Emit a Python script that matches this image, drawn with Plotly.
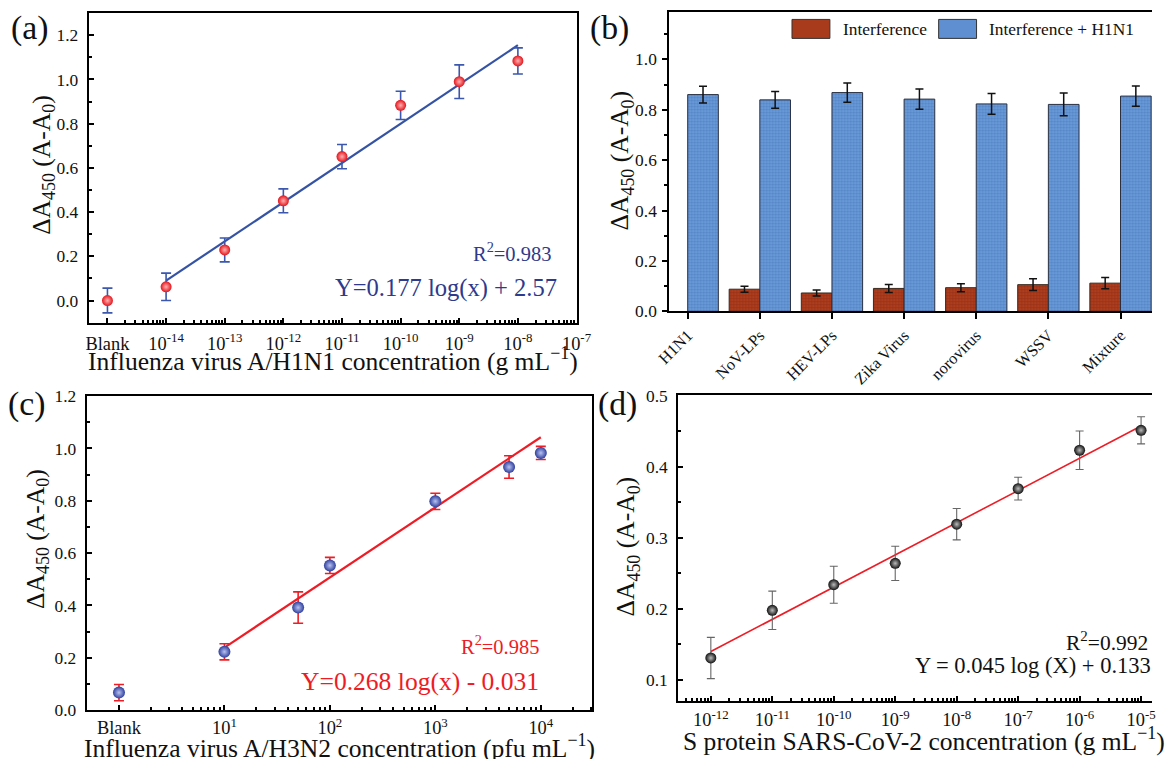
import numpy as np
import plotly.graph_objects as go

W, H = 1167, 759
FONT = "Liberation Serif"
# the photographed page comes out slightly shrunk about its centre; positions below are
# given in target-picture pixels and mapped back to page pixels
S = 0.9775
CX, CY = W / 2, H / 2

# ---------------- data ----------------
# (a) H1N1
a_x = [1e-15, 1e-14, 1e-13, 1e-12, 1e-11, 1e-10, 1e-9, 1e-8]   # first = Blank
a_y = [0.000, 0.062, 0.229, 0.451, 0.651, 0.883, 0.990, 1.084]
a_err = [0.056, 0.062, 0.054, 0.054, 0.055, 0.064, 0.076, 0.059]
a_fit_x = [1e-14, 1e-8]
a_fit_y = [0.090, 1.155]
a_ticks = [1e-15, 1e-14, 1e-13, 1e-12, 1e-11, 1e-10, 1e-9, 1e-8, 1e-7]
a_ticktext = ["Blank", "10<sup>-14</sup>", "10<sup>-13</sup>", "10<sup>-12</sup>", "10<sup>-11</sup>",
              "10<sup>-10</sup>", "10<sup>-9</sup>", "10<sup>-8</sup>", "10<sup>-7</sup>"]

# (b) selectivity
b_cats = ["H1N1", "NoV-LPs", "HEV-LPs", "Zika Virus", "norovirus", "WSSV", "Mixture"]
b_interf = [None, 0.088, 0.073, 0.091, 0.094, 0.106, 0.112]
b_interf_err = [None, 0.012, 0.012, 0.016, 0.016, 0.023, 0.022]
b_h1n1 = [0.860, 0.839, 0.868, 0.842, 0.823, 0.821, 0.854]
b_h1n1_err = [0.033, 0.033, 0.038, 0.040, 0.041, 0.045, 0.040]

# (c) H3N2
c_x = [1, 10, 50, 100, 1000, 5000, 10000]   # first = Blank
c_y = [0.067, 0.223, 0.392, 0.553, 0.798, 0.929, 0.983]
c_err = [0.031, 0.031, 0.060, 0.031, 0.031, 0.043, 0.025]
c_fit_x = [10, 10000]
c_fit_y = [0.239, 1.043]
c_ticks = [1, 10, 100, 1000, 10000]
c_ticktext = ["Blank", "10<sup>1</sup>", "10<sup>2</sup>", "10<sup>3</sup>", "10<sup>4</sup>"]

# (d) S protein SARS-CoV-2
d_x = [1e-12, 1e-11, 1e-10, 1e-9, 1e-8, 1e-7, 1e-6, 1e-5]
d_y = [0.131, 0.198, 0.234, 0.264, 0.319, 0.369, 0.423, 0.451]
d_err = [0.029, 0.027, 0.026, 0.024, 0.022, 0.016, 0.027, 0.019]
d_fit_x = [1e-12, 1e-5]
d_fit_y = [0.140, 0.457]
d_ticks = [1e-12, 1e-11, 1e-10, 1e-9, 1e-8, 1e-7, 1e-6, 1e-5]
d_ticktext = ["10<sup>-12</sup>", "10<sup>-11</sup>", "10<sup>-10</sup>", "10<sup>-9</sup>",
              "10<sup>-8</sup>", "10<sup>-7</sup>", "10<sup>-6</sup>", "10<sup>-5</sup>"]

# --------------- helpers ---------------
def wx(r):
    return CX + (r - CX) / S

def wy(r):
    return CY + (r - CY) / S

def px(r, clamp=True):
    v = wx(r) / W
    return min(1.0, max(0.0, v)) if clamp else v

def py(r, clamp=True):
    v = 1 - wy(r) / H
    return min(1.0, max(0.0, v)) if clamp else v

def F(size):
    return size / S

def minor_log(d0, d1):
    return [k * 10.0 ** d for d in range(d0, d1) for k in range(2, 10)]

YT = "ΔA<sub>450</sub> (A-A<sub>0</sub>)"
R_EDGE = CX + (W - CX) * S   # target x of the page's right edge

fig = go.Figure()

# ---- (a)
fig.add_trace(go.Scatter(x=a_fit_x, y=a_fit_y, mode="lines", line=dict(color="#3553A4", width=2.2),
                         xaxis="x", yaxis="y", showlegend=False))
fig.add_trace(go.Scatter(x=a_x, y=a_y, mode="markers",
                         error_y=dict(type="data", array=a_err, color="#3B57AE", thickness=1.6, width=5),
                         marker=dict(size=11, color="#E3141B", line=dict(width=0),
                                     gradient=dict(type="radial", color="#FFB0B0")),
                         xaxis="x", yaxis="y", showlegend=False))

# ---- (b)
fig.add_trace(go.Bar(x=b_cats, y=b_interf, name="Interference",
                     error_y=dict(type="data", array=b_interf_err, color="#111", thickness=1.5, width=4),
                     marker=dict(color="#B4401E", line=dict(color="#3a2a20", width=1),
                                 pattern=dict(shape=".", fgcolor="#7A2410", size=3, solidity=0.5,
                                              fillmode="overlay")),
                     xaxis="x2", yaxis="y2", showlegend=False))
fig.add_trace(go.Bar(x=b_cats, y=b_h1n1, name="Interference + H1N1",
                     error_y=dict(type="data", array=b_h1n1_err, color="#111", thickness=1.5, width=4),
                     marker=dict(color="#6E9FDD", line=dict(color="#2a3040", width=1),
                                 pattern=dict(shape=".", fgcolor="#3D69AE", size=3, solidity=0.5,
                                              fillmode="overlay")),
                     xaxis="x2", yaxis="y2", showlegend=False))

# ---- (c)
fig.add_trace(go.Scatter(x=c_fit_x, y=c_fit_y, mode="lines", line=dict(color="#EE1C25", width=2.2),
                         xaxis="x3", yaxis="y3", showlegend=False))
fig.add_trace(go.Scatter(x=c_x, y=c_y, mode="markers",
                         error_y=dict(type="data", array=c_err, color="#EE1C25", thickness=1.6, width=5),
                         marker=dict(size=12, color="#2E3F9E", line=dict(width=0),
                                     gradient=dict(type="radial", color="#B8C2F0")),
                         xaxis="x3", yaxis="y3", showlegend=False))

# ---- (d)
fig.add_trace(go.Scatter(x=d_fit_x, y=d_fit_y, mode="lines", line=dict(color="#EE1C25", width=1.6),
                         xaxis="x4", yaxis="y4", showlegend=False))
fig.add_trace(go.Scatter(x=d_x, y=d_y, mode="markers",
                         error_y=dict(type="data", array=d_err, color="#666", thickness=1.1, width=4),
                         marker=dict(size=11, color="#111111", line=dict(width=0),
                                     gradient=dict(type="radial", color="#BBBBBB")),
                         xaxis="x4", yaxis="y4", showlegend=False))


def ax(**kw):
    base = dict(showline=True, linecolor="black", linewidth=2, showgrid=False, zeroline=False,
                tickfont=dict(family=FONT, size=F(17), color="#111"), tickcolor="black", tickwidth=1.5)
    base.update(kw)
    return base

XTF = dict(family=FONT, size=F(18), color="#111")
# category scale of (b): H1N1 at 689.8 px, 72.1 px per category
b_right = (R_EDGE - 689.8) / 72.1
# log scale of (d): 1e-12 at 711 px, 61.7 px per decade
d_right = -12 + (R_EDGE - 711) / 61.7

fig.update_layout(
    width=W, height=H, margin=dict(l=0, r=0, t=0, b=0),
    paper_bgcolor="white", plot_bgcolor="white",
    font=dict(family=FONT, color="#111"),
    barmode="group", bargap=0.15, bargroupgap=0,
    xaxis=ax(type="log", domain=[px(88), px(577)], range=[-15.32, -7.0],
             tickvals=a_ticks, ticktext=a_ticktext, ticks="inside", ticklen=5, mirror=True,
             ticklabelstandoff=3, tickfont=XTF,
             minor=dict(tickvals=minor_log(-15, -7), ticks="inside", ticklen=3, tickcolor="black"),
             anchor="y"),
    yaxis=ax(domain=[py(323), py(12.7)], range=[-0.1, 1.3], tickvals=[0, 0.2, 0.4, 0.6, 0.8, 1.0, 1.2],
             tickformat=".1f", ticks="inside", ticklen=5, mirror=True, ticklabelstandoff=5,
             minor=dict(dtick=0.1, tick0=0, ticks="inside", ticklen=3, tickcolor="black"),
             anchor="x"),
    xaxis2=ax(type="category", domain=[px(670), 1.0], range=[-0.255, b_right],
              ticks="outside", ticklen=6, tickangle=-45, mirror=True, anchor="y2",
              tickfont=dict(family=FONT, size=F(16), color="#111")),
    yaxis2=ax(domain=[py(311.7), py(11.7)], range=[0, 1.187], tickvals=[0, 0.2, 0.4, 0.6, 0.8, 1.0],
              tickformat=".1f", ticks="outside", ticklen=5, mirror=False, ticklabelstandoff=2,
              minor=dict(dtick=0.1, tick0=0, ticks="outside", ticklen=3, tickcolor="black"),
              anchor="x2"),
    xaxis3=ax(type="log", domain=[px(86), px(593)], range=[-0.306, 4.49],
              tickvals=c_ticks, ticktext=c_ticktext, ticks="inside", ticklen=5, mirror=True,
              ticklabelstandoff=0, tickfont=XTF,
              minor=dict(tickvals=minor_log(0, 5)[:-4], ticks="inside", ticklen=3, tickcolor="black"),
              anchor="y3"),
    yaxis3=ax(domain=[py(711.5), py(396.7)], range=[0, 1.2], tickvals=[0, 0.2, 0.4, 0.6, 0.8, 1.0, 1.2],
              tickformat=".1f", ticks="inside", ticklen=5, mirror=True, ticklabelstandoff=5,
              minor=dict(dtick=0.1, tick0=0, ticks="inside", ticklen=3, tickcolor="black"),
              anchor="x3"),
    xaxis4=ax(type="log", domain=[px(679), 1.0], range=[-12.53, d_right],
              tickvals=d_ticks, ticktext=d_ticktext, ticks="inside", ticklen=5, mirror=True,
              ticklabelstandoff=1, tickfont=XTF,
              minor=dict(tickvals=minor_log(-13, -4), ticks="inside", ticklen=3, tickcolor="black"),
              anchor="y4"),
    yaxis4=ax(domain=[py(702.7), py(396)], range=[0.07, 0.5], tickvals=[0.1, 0.2, 0.3, 0.4, 0.5],
              tickformat=".1f", ticks="inside", ticklen=5, mirror=False, ticklabelstandoff=5,
              minor=dict(dtick=0.05, tick0=0, ticks="inside", ticklen=3, tickcolor="black"),
              anchor="x4"),
)

ann = []

def add_text(x, y, text, size, color="#111", xanchor="center", yanchor="middle", angle=0):
    ann.append(dict(x=px(x, False), y=py(y, False), xref="paper", yref="paper", text=text,
                    showarrow=False, xanchor=xanchor, yanchor=yanchor, textangle=angle,
                    font=dict(family=FONT, size=F(size), color=color)))

# panel labels
add_text(29, 28, "(a)", 33)
add_text(610, 28, "(b)", 33)
add_text(26, 405, "(c)", 33)
add_text(618, 405, "(d)", 33)

# y titles
add_text(42, 165, YT, 25, angle=-90)
add_text(622, 160, YT, 25, angle=-90)
add_text(36, 540, YT, 25, angle=-90)
add_text(628, 547, YT, 25, angle=-90)

# x titles
add_text(333, 360, "Influenza virus A/H1N1 concentration (g mL<sup>−1</sup>)", 25)
add_text(81, 748, "Influenza virus A/H3N2 concentration (pfu mL<sup>−1</sup>)", 25, xanchor="left")
add_text(682, 741, "S protein SARS-CoV-2 concentration (g mL<sup>−1</sup>)", 25, xanchor="left")

# fit texts
NAVY = "#2E3A8C"
add_text(553, 252, "R<sup>2</sup>=0.983", 20, NAVY, xanchor="right")
add_text(559, 288, "Y=0.177 log(x) + 2.57", 24, NAVY, xanchor="right")
RED = "#EE1C25"
add_text(541, 646, "R<sup>2</sup>=0.985", 20, RED, xanchor="right")
add_text(541, 683, "Y=0.268 log(x) - 0.031", 25, RED, xanchor="right")
add_text(1152, 643, "R<sup>2</sup>=0.992", 21, "#111", xanchor="right")
add_text(1155, 667, "Y = 0.045 log (X) + 0.133", 22, "#111", xanchor="right")

# legend of (b)
add_text(842, 29, "Interference", 17, xanchor="left")
add_text(988, 29, "Interference + H1N1", 17, xanchor="left")

fig.update_layout(annotations=ann)

shapes = [
    dict(type="rect", xref="paper", yref="paper", x0=px(793), x1=px(831), y0=py(38), y1=py(19),
         fillcolor="#A83B1C", line=dict(color="#333", width=1)),
    dict(type="rect", xref="paper", yref="paper", x0=px(940), x1=px(978), y0=py(38), y1=py(19),
         fillcolor="#5F8FD0", line=dict(color="#333", width=1)),
]
fig.update_layout(shapes=shapes)

fig.write_html("out.html", config={"displayModeBar": False},
               post_script="document.body.style.margin='0';document.body.style.overflow='hidden';"
                           "document.documentElement.style.overflow='hidden';")
